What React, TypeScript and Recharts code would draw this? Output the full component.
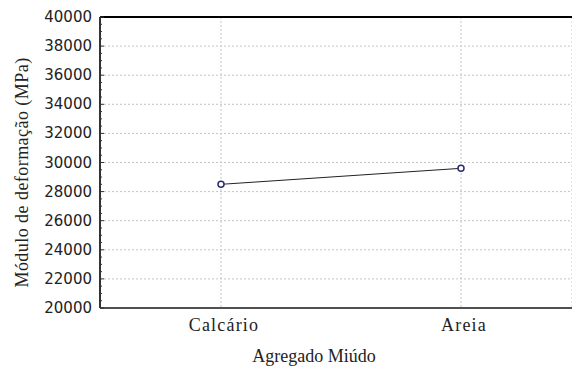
import {
	CartesianGrid,
	Line,
	LineChart,
	ReferenceLine,
	XAxis,
	YAxis,
} from "recharts";

const categories = ["Calcário", "Areia"];
const modulus = [28500, 29600];
const majorTicks = [
	20000, 22000, 24000, 26000, 28000, 30000, 32000, 34000, 36000, 38000, 40000,
];

const data = categories.map((name, i) => ({ name, value: modulus[i] }));

// minor ticks every 500 between the labelled ones
const allTicks: number[] = [];
for (let v = majorTicks[0]; v <= majorTicks[majorTicks.length - 1]; v += 500) {
	allTicks.push(v);
}

const serif = "'Liberation Serif', 'Times New Roman', serif";

const YTick = (props: any) => {
	const { x, y, payload } = props;
	const major = payload.value % 2000 === 0;
	return (
		<g>
			<line
				x1={x}
				x2={x + (major ? 4 : 2)}
				y1={y}
				y2={y}
				stroke="#333"
				strokeWidth={1}
			/>
			{major && (
				<text
					x={x - 8}
					y={y}
					textAnchor="end"
					dominantBaseline="central"
					fontFamily="'DejaVu Sans', Verdana, sans-serif"
					fontSize={15}
					fill="#222"
				>
					{payload.value}
				</text>
			)}
		</g>
	);
};

const XTick = (props: any) => {
	const { x, y, payload } = props;
	return (
		<text
			x={x + 3}
			y={y}
			dy="0.71em"
			textAnchor="middle"
			fontFamily={serif}
			fontSize={18}
			letterSpacing={1.2}
			fill="#222"
		>
			{payload.value}
		</text>
	);
};

const App = () => {
	return (
		<div style={{ position: "absolute", left: 0, top: 0, background: "#fff" }}>
			<LineChart
				width={572}
				height={367}
				data={data}
				margin={{ top: 17, right: 0, left: 0, bottom: 0 }}
			>
				<CartesianGrid
					stroke="#c4c4c4"
					strokeDasharray="2 2"
					horizontalValues={majorTicks}
				/>
				<XAxis
					dataKey="name"
					height={59}
					padding={{ left: 121, right: 111 }}
					tickLine={false}
					tickSize={0}
					tickMargin={10}
					axisLine={{ stroke: "#505050", strokeWidth: 2 }}
					tick={<XTick />}
					label={{
						value: "Agregado Miúdo",
						position: "insideBottom",
						offset: 5,
						dx: -22,
						fontFamily: serif,
						fontSize: 18,
						fill: "#222",
					}}
				/>
				<YAxis
					type="number"
					domain={[20000, 40000]}
					ticks={allTicks}
					interval={0}
					width={100}
					tickLine={false}
					tickSize={0}
					tickMargin={0}
					axisLine={{ stroke: "#333", strokeWidth: 2 }}
					tick={<YTick />}
					label={{
						value: "Módulo de deformação (MPa)",
						angle: -90,
						position: "center",
						dx: -28,
						dy: 10,
						fontFamily: serif,
						fontSize: 18,
						letterSpacing: 0.45,
						fill: "#222",
					}}
				/>
				<ReferenceLine y={40000} stroke="#000" strokeWidth={2} />
				<Line
					type="linear"
					dataKey="value"
					stroke="#222"
					strokeWidth={1}
					dot={{ r: 3, stroke: "#2b2b73", strokeWidth: 1.5, fill: "#fff" }}
					isAnimationActive={false}
				/>
			</LineChart>
		</div>
	);
};

export default App;
